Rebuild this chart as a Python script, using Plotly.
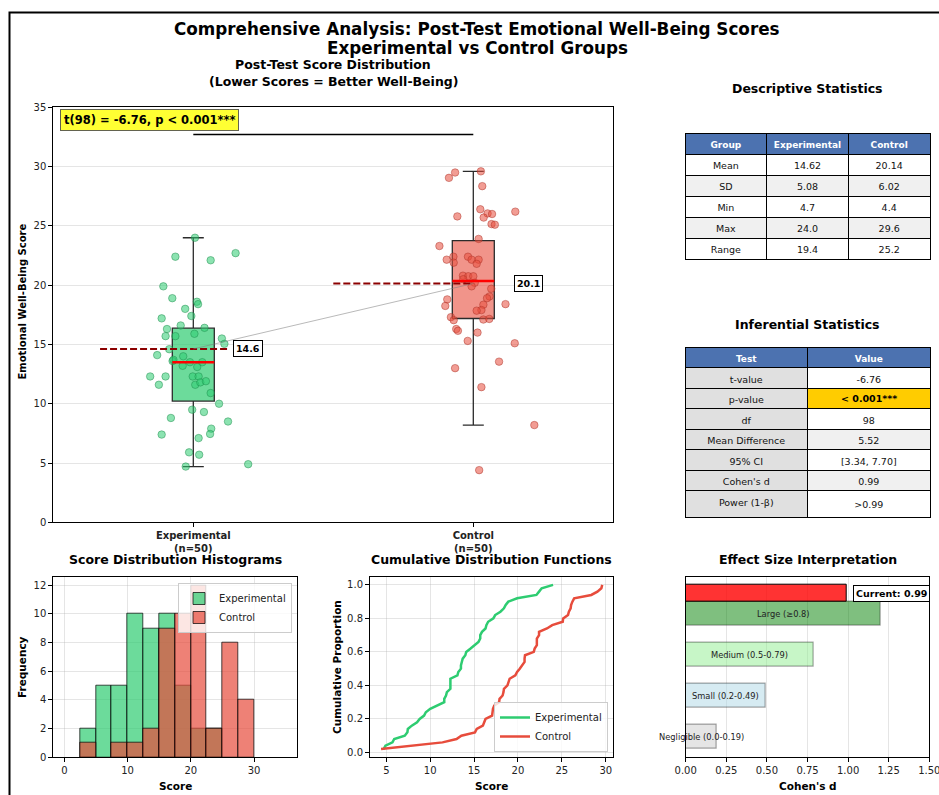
import numpy as np
import plotly.graph_objects as go

W, H = 939, 795
FONT = "DejaVu Sans"

# ---------------- data ----------------
groups = ["Experimental", "Control"]
group_pos = [1, 2]
group_n = [50, 50]

exp_scores = [24.0, 22.7, 22.4, 22.1, 19.9, 18.9, 18.6, 18.4, 18.0, 17.4,
              17.2, 16.6, 16.3, 16.4, 15.7, 15.7, 15.9, 15.5, 15.05, 14.6,
              14.1, 14.0, 13.6, 13.5, 13.5, 13.2, 13.1, 12.3, 12.3, 12.3,
              12.3, 11.6, 11.6, 11.8, 11.9, 10.9, 10.0, 9.5, 9.3, 8.8,
              8.5, 7.9, 7.45, 7.4, 7.1, 5.9, 5.7, 4.7, 4.9, 13.7]
exp_jitter = [0.006, 0.151, -0.064, 0.062, -0.107, -0.075, 0.013, 0.017, -0.029, -0.007,
              -0.113, -0.045, -0.094, 0.040, -0.099, -0.064, 0.004, 0.102, 0.111, -0.086,
              -0.129, -0.036, -0.074, -0.012, 0.032, -0.038, 0.014, -0.154, -0.099, -0.002,
              0.019, -0.123, 0.007, 0.025, 0.045, 0.062, 0.092, -0.004, 0.038, -0.080,
              0.124, 0.064, 0.060, -0.113, 0.019, -0.015, 0.021, -0.027, 0.196, -0.071]

ctrl_scores = [29.6, 29.5, 29.05, 28.35, 26.4, 26.2, 26.05, 26.0, 25.7, 25.8,
               25.15, 25.1, 23.9, 23.3, 22.15, 22.4, 21.9, 22.4, 22.15, 22.15,
               21.8, 20.8, 20.75, 20.75, 20.2, 19.9, 19.7, 19.05, 18.9, 18.8,
               18.4, 18.25, 18.35, 17.9, 17.85, 17.3, 17.05, 17.1, 17.15, 16.3,
               16.15, 16.0, 15.3, 15.1, 13.55, 13.0, 11.4, 8.2, 4.4, 20.5]
ctrl_jitter = [0.027, -0.065, -0.087, 0.032, 0.025, 0.150, 0.051, 0.067, 0.037, -0.057,
               0.065, 0.077, 0.019, -0.121, -0.095, -0.071, -0.070, -0.019, -0.006, 0.019,
               0.012, -0.037, -0.018, 0.000, 0.005, -0.006, 0.064, 0.058, 0.049, -0.093,
               0.115, -0.100, 0.036, 0.029, 0.012, -0.080, -0.070, 0.036, 0.057, -0.061,
               -0.055, 0.015, -0.020, 0.148, 0.092, -0.065, 0.029, 0.218, 0.021, -0.036]

group_means = [14.62, 20.14]
sig_level = 32.7
t_label = "t(98) = -6.76, p &lt; 0.001***"

desc_header = ["Group", "Experimental", "Control"]
desc_stats = ["Mean", "SD", "Min", "Max", "Range"]
desc_exp = ["14.62", "5.08", "4.7", "24.0", "19.4"]
desc_ctrl = ["20.14", "6.02", "4.4", "29.6", "25.2"]

inf_header = ["Test", "Value"]
inf_tests = ["t-value", "p-value", "df", "Mean Difference", "95% CI", "Cohen's d", "Power (1-β)"]
inf_values = ["-6.76", "&lt; 0.001***", "98", "5.52", "[3.34, 7.70]", "0.99", "&gt;0.99"]
inf_highlight_row = 1

hist_bin_start, hist_bin_end, hist_bin_size = 0, 35, 2.5

effect_labels = ["Negligible (0.0-0.19)", "Small (0.2-0.49)", "Medium (0.5-0.79)", "Large (≥0.8)"]
effect_bounds = [0.19, 0.49, 0.79, 1.2]
effect_pos = [0, 1, 2, 3]
current_d = 0.99
current_pos = 3.5

# ---------------- styles ----------------
GREEN = "#2ecc71"
RED = "#e74c3c"
green_fill = "rgba(46,204,113,0.7)"
red_fill = "rgba(231,76,60,0.7)"
effect_colors = ["rgba(211,211,211,0.6)", "rgba(173,216,230,0.5)",
                 "rgba(144,238,144,0.5)", "rgba(0,128,0,0.5)"]
HEADER_BLUE = "#4C72B0"
GRID = "rgba(170,170,170,0.3)"
ROW_H = 21
INF_ROW_H = 20.5
TAB_X = (685, 930)
DESC_TOP = 133
INF_TOP = 347


def px(x):
    return x / W


def py(y):
    return 1 - y / H


def box_stats(vals):
    v = np.asarray(vals)
    q1, med, q3 = np.percentile(v, [25, 50, 75])
    iqr = q3 - q1
    lo = v[v >= q1 - 1.5 * iqr].min()
    hi = v[v <= q3 + 1.5 * iqr].max()
    return q1, med, q3, lo, hi


fig = go.Figure()

# ---------------- main box plot ----------------
all_scores = [exp_scores, ctrl_scores]
all_jitter = [exp_jitter, ctrl_jitter]
fills = ["rgba(46,204,113,0.7)", "rgba(231,76,60,0.6)"]
pt_fill = ["rgba(46,204,113,0.55)", "rgba(231,76,60,0.55)"]
pt_edge = ["rgba(30,140,75,0.6)", "rgba(170,50,40,0.6)"]
box_w = 0.15

for i, (pos, sc) in enumerate(zip(group_pos, all_scores)):
    q1, med, q3, lo, hi = box_stats(sc)
    fig.add_trace(go.Box(
        x=[pos], q1=[q1], median=[med], q3=[q3], lowerfence=[lo], upperfence=[hi],
        width=box_w, whiskerwidth=0.5, fillcolor=fills[i],
        line=dict(color="#2b2b2b", width=1.3), boxpoints=False,
        showlegend=False, xaxis="x", yaxis="y"))

for i, (pos, sc, jt) in enumerate(zip(group_pos, all_scores, all_jitter)):
    fig.add_trace(go.Scatter(
        x=[pos + j for j in jt], y=sc, mode="markers",
        marker=dict(size=7.5, color=pt_fill[i], line=dict(color=pt_edge[i], width=0.8)),
        showlegend=False, xaxis="x", yaxis="y"))

for i, (pos, sc) in enumerate(zip(group_pos, all_scores)):
    q1, med, q3, lo, hi = box_stats(sc)
    fig.add_trace(go.Scatter(
        x=[pos - box_w / 2, pos + box_w / 2], y=[med, med], mode="lines",
        line=dict(color="red", width=2.5), showlegend=False, xaxis="x", yaxis="y"))

# mean dashed lines
mean_spans = [(-0.333, 0.131), (-0.5, 0.0)]
for pos, m, (a, b) in zip(group_pos, group_means, mean_spans):
    fig.add_trace(go.Scatter(
        x=[pos + a, pos + b], y=[m, m], mode="lines",
        line=dict(color="#8b0000", width=2, dash="7px,3px"),
        showlegend=False, xaxis="x", yaxis="y"))

# connecting line between means
fig.add_trace(go.Scatter(
    x=group_pos, y=group_means, mode="lines",
    line=dict(color="rgba(128,128,128,0.55)", width=1),
    showlegend=False, xaxis="x", yaxis="y"))

# significance bar
fig.add_trace(go.Scatter(
    x=group_pos, y=[sig_level, sig_level], mode="lines",
    line=dict(color="black", width=1.5), showlegend=False, xaxis="x", yaxis="y"))

# ---------------- histograms ----------------
for name, sc, col in [("Experimental", exp_scores, green_fill), ("Control", ctrl_scores, red_fill)]:
    fig.add_trace(go.Histogram(
        x=sc, name=name,
        xbins=dict(start=hist_bin_start, end=hist_bin_end, size=hist_bin_size),
        autobinx=False,
        marker=dict(color=col, line=dict(color="rgba(0,0,0,0.7)", width=1)),
        xaxis="x2", yaxis="y2", legend="legend"))

# ---------------- CDFs ----------------
for name, sc, col in [("Experimental", exp_scores, GREEN), ("Control", ctrl_scores, RED)]:
    s = np.sort(sc)
    yv = np.arange(1, len(s) + 1) / len(s)
    fig.add_trace(go.Scatter(
        x=s, y=yv, mode="lines", name=name,
        line=dict(color=col, width=2.5),
        xaxis="x3", yaxis="y3", legend="legend2"))

# ---------------- effect size ----------------
fig.add_trace(go.Bar(
    x=effect_bounds, y=effect_pos, orientation="h", width=0.6,
    marker=dict(color=effect_colors, line=dict(color="rgba(0,0,0,0.35)", width=1.2)),
    showlegend=False, xaxis="x4", yaxis="y4"))
fig.add_trace(go.Bar(
    x=[current_d], y=[current_pos], orientation="h", width=0.4,
    marker=dict(color="rgba(255,0,0,0.8)", line=dict(color="black", width=1)),
    showlegend=False, xaxis="x4", yaxis="y4"))

# ---------------- tables ----------------
desc_row_fill = ["white" if i % 2 == 0 else "#f0f0f0" for i in range(len(desc_stats))]
fig.add_trace(go.Table(
    domain=dict(x=[px(TAB_X[0]), px(TAB_X[1])], y=[py(300), py(DESC_TOP)]),
    columnwidth=[1, 1, 1],
    header=dict(values=desc_header, fill_color=HEADER_BLUE,
                font=dict(color="white", size=9, family=FONT, weight="bold"), align="center",
                line=dict(color="black", width=1), height=ROW_H),
    cells=dict(values=[desc_stats, desc_exp, desc_ctrl],
               fill_color=[desc_row_fill] * 3,
               font=dict(color="#111", size=9.5, family=FONT), align="center",
               line=dict(color="black", width=1), height=ROW_H)))

inf_first_fill = ["#e0e0e0"] * len(inf_tests)
inf_val_fill = ["white" if i % 2 == 0 else "#f0f0f0" for i in range(len(inf_tests))]
inf_val_fill[inf_highlight_row] = "#ffcc00"
# highlighted (bold) value is drawn as an overlay text below
inf_cell_text = ["" if i == inf_highlight_row else v for i, v in enumerate(inf_values)]
fig.add_trace(go.Table(
    domain=dict(x=[px(TAB_X[0]), px(TAB_X[1])], y=[py(550), py(INF_TOP)]),
    columnwidth=[1, 1],
    header=dict(values=inf_header, fill_color=HEADER_BLUE,
                font=dict(color="white", size=9, family=FONT, weight="bold"), align="center",
                line=dict(color="black", width=1), height=INF_ROW_H),
    cells=dict(values=[inf_tests, inf_cell_text],
               fill_color=[inf_first_fill, inf_val_fill],
               font=dict(color="#111", size=9.5, family=FONT),
               align="center",
               line=dict(color="black", width=1), height=INF_ROW_H)))

# ---------------- layout ----------------
def axis(**kw):
    base = dict(showline=True, linecolor="black", linewidth=1, mirror=True,
                ticks="outside", ticklen=4, tickcolor="black",
                tickfont=dict(size=10, color="#222", family=FONT),
                zeroline=False, showgrid=False, gridcolor=GRID, gridwidth=1,
                automargin=False, ticklabeloverflow="allow")
    base.update(kw)
    return base

all_vals = np.concatenate([exp_scores, ctrl_scores])
lo_v, hi_v = all_vals.min(), all_vals.max()
pad_v = 0.05 * (hi_v - lo_v)

y_bot_row = [py(757.3), py(576.7)]

fig.update_layout(
    width=W, height=H, margin=dict(l=0, r=0, t=0, b=0),
    paper_bgcolor="white", plot_bgcolor="white", template="none",
    font=dict(family=FONT, color="#111"),
    barmode="overlay", bargap=0,
    xaxis=axis(domain=[px(53.3), px(613.3)], range=[0.5, 2.5], anchor="y",
               tickvals=group_pos,
               ticktext=[f"<b>{g}<br>(n={n})</b>" for g, n in zip(groups, group_n)]),
    yaxis=axis(domain=[py(522.3), py(107.3)], range=[0, 35], dtick=5, anchor="x",
               showgrid=True),
    xaxis2=axis(domain=[px(53.3), px(296.7)],
                range=[hist_bin_start - 0.05 * hist_bin_end, hist_bin_end * 1.05],
                tickvals=[0, 10, 20, 30], showgrid=True, anchor="y2"),
    yaxis2=axis(domain=y_bot_row, range=[0, 12.6], dtick=2, showgrid=True, anchor="x2"),
    xaxis3=axis(domain=[px(370), px(613.3)], range=[lo_v - pad_v, hi_v + pad_v],
                dtick=5, tick0=0, showgrid=True, anchor="y3"),
    yaxis3=axis(domain=y_bot_row, range=[-0.029, 1.049], tickvals=[0, 0.2, 0.4, 0.6, 0.8, 1.0],
                tickformat=".1f", showgrid=True, anchor="x3"),
    xaxis4=axis(domain=[px(685.7), px(929.3)], range=[0, 1.5], dtick=0.25, tick0=0,
                tickformat=".2f", showgrid=True, anchor="y4"),
    yaxis4=axis(domain=y_bot_row, range=[-0.5, 3.9], showticklabels=False, ticks="",
                anchor="x4"),
    legend=dict(x=px(292), y=py(583), xanchor="right", yanchor="top",
                bgcolor="rgba(255,255,255,0.8)", bordercolor="#cccccc", borderwidth=1,
                font=dict(size=10, color="#222", family=FONT), itemwidth=30,
                tracegroupgap=0),
    legend2=dict(x=px(608), y=py(752), xanchor="right", yanchor="bottom",
                 bgcolor="rgba(255,255,255,0.8)", bordercolor="#cccccc", borderwidth=1,
                 font=dict(size=10, color="#222", family=FONT), itemwidth=30,
                 tracegroupgap=0),
)

ann = []


def ptext(text, x, y, size, bold=True, angle=0, **kw):
    t = f"<b>{text}</b>" if bold else text
    d = dict(text=t, x=px(x), y=py(y), xref="paper", yref="paper", showarrow=False,
             xanchor="center", yanchor="middle", textangle=angle,
             font=dict(size=size, color="black", family=FONT))
    d.update(kw)
    ann.append(d)

# titles
ptext("Comprehensive Analysis: Post-Test Emotional Well-Being Scores", 477, 29, 16.8)
ptext("Experimental vs Control Groups", 477, 48, 16.8)
ptext("Post-Test Score Distribution", 333.3, 65, 12.5)
ptext("(Lower Scores = Better Well-Being)", 333.3, 82, 12.5)
ptext("Descriptive Statistics", 807.5, 89, 12.5)
ptext("Inferential Statistics", 807.5, 324, 12.5)
ptext("Score Distribution Histograms", 175, 559, 12.5)
ptext("Cumulative Distribution Functions", 491.7, 559, 12.5)
ptext("Effect Size Interpretation", 807.5, 559, 12.5)

# axis titles
ptext("Emotional Well-Being Score", 22, 301.5, 10, angle=-90)
ptext("Frequency", 22, 667, 10.5, angle=-90)
ptext("Cumulative Proportion", 337, 667, 10.5, angle=-90)
ptext("Score", 175, 786, 10.5)
ptext("Score", 491.7, 786, 10.5)
ptext("Cohen's d", 807.5, 786, 10.5)

# highlighted p-value in the inferential table (bold)
val_col_center = TAB_X[0] + 0.75 * (TAB_X[1] - TAB_X[0])
hl_row_center = INF_TOP + INF_ROW_H * (inf_highlight_row + 1) + INF_ROW_H / 2
ptext(inf_values[inf_highlight_row], val_col_center, hl_row_center + 0.5, 9.5)

# t-test box
ann.append(dict(text=f"<b>{t_label}</b>", x=px(60), y=py(109.3), xref="paper", yref="paper",
                xanchor="left", yanchor="top", showarrow=False,
                font=dict(size=11.5, color="black", family=FONT),
                bgcolor="rgba(255,255,0,0.8)", bordercolor="rgba(60,60,60,0.8)",
                borderwidth=1, borderpad=3))

# significance stars
ann.append(dict(text="<b>***</b>", x=np.mean(group_pos), y=35.6, xref="x", yref="y",
                showarrow=False, xanchor="center", yanchor="middle",
                font=dict(size=20, color="red", family=FONT)))

# mean labels
for pos, m in zip(group_pos, group_means):
    ann.append(dict(text=f"<b>{m:.1f}</b>", x=pos + 0.196, y=m, xref="x", yref="y",
                    showarrow=False, xanchor="center", yanchor="middle",
                    font=dict(size=9.5, color="black", family=FONT),
                    bgcolor="white", bordercolor="black", borderwidth=1, borderpad=2))

# effect labels
for lab, b, p in zip(effect_labels, effect_bounds, effect_pos):
    ann.append(dict(text=lab, x=b / 2, y=p, xref="x4", yref="y4", showarrow=False,
                    xanchor="center", yanchor="middle",
                    font=dict(size=8.3, color="#222", family=FONT)))
ann.append(dict(text=f"<b>Current: {current_d:.2f}</b>", x=current_d + 0.04, y=current_pos,
                xref="x4", yref="y4", showarrow=False, xanchor="left", yanchor="middle",
                font=dict(size=9.5, color="black", family=FONT),
                bgcolor="white", bordercolor="black", borderwidth=1, borderpad=2))

fig.update_layout(annotations=ann)

# figure frame
fig.add_shape(type="rect", xref="paper", yref="paper",
              x0=px(9.5), y0=py(H + 10), x1=px(W + 10), y1=py(12.5),
              line=dict(color="black", width=2), fillcolor="rgba(0,0,0,0)", layer="above")

fig.write_html("out.html",
               config={"displayModeBar": False},
               post_script="document.body.style.margin='0px';"
                           "document.body.style.overflow='hidden';")
